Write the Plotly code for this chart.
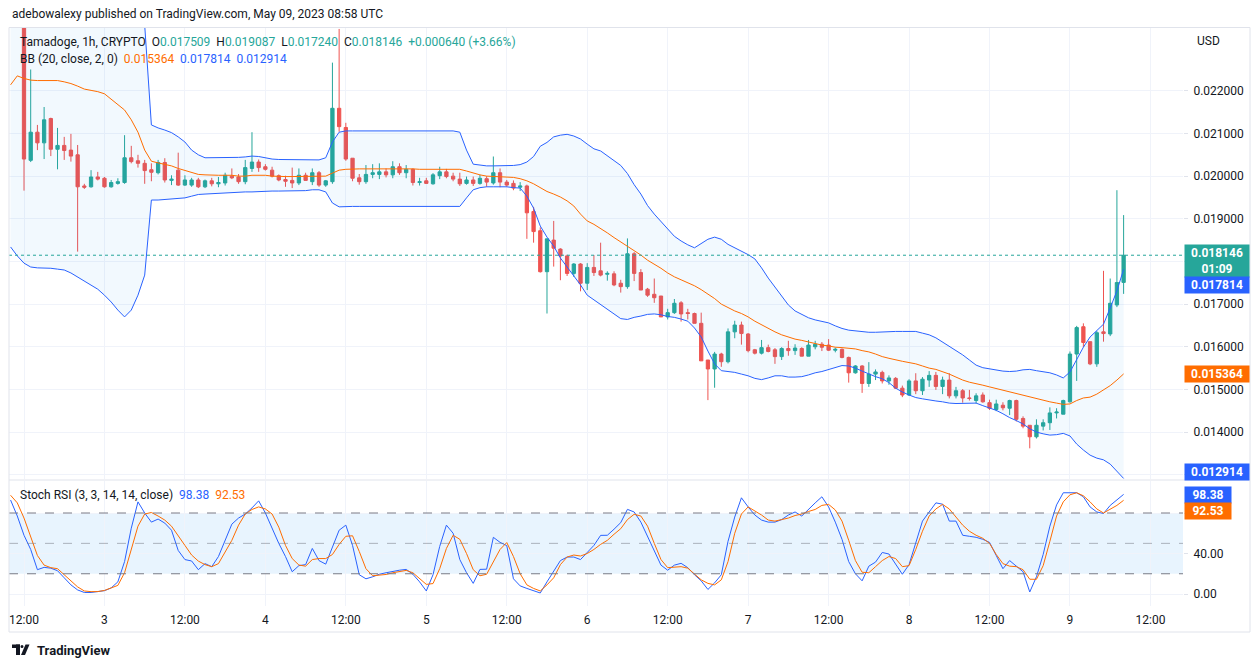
import plotly.graph_objects as go
import pandas as pd

# ---------------- data ----------------
open_ = [0.0246, 0.0255, 0.0262, 0.02037, 0.02103, 0.02078, 0.02135, 0.02063, 0.02072, 0.02061,
         0.0205, 0.01977, 0.01975, 0.01998, 0.01995, 0.01975, 0.01983, 0.01985, 0.02043, 0.02036,
         0.0203, 0.02015, 0.02008, 0.02032, 0.0199, 0.02014, 0.01979, 0.01979, 0.01991, 0.01975,
         0.01989, 0.01982, 0.01984, 0.02, 0.01998, 0.01987, 0.02018, 0.02033, 0.02022, 0.02014,
         0.02001, 0.01992, 0.0199, 0.01984, 0.02002, 0.01987, 0.02008, 0.01979, 0.01987, 0.02159,
         0.02114, 0.02042, 0.01996, 0.01987, 0.02004, 0.02004, 0.0201, 0.02003, 0.02022, 0.02008,
         0.02016, 0.01985, 0.01989, 0.01982, 0.02001, 0.0201, 0.02, 0.01993, 0.01983, 0.01991,
         0.01983, 0.01994, 0.01984, 0.02008, 0.01986, 0.01983, 0.01974, 0.01977, 0.01917, 0.01872,
         0.01776, 0.0185, 0.01829, 0.01813, 0.01772, 0.01794, 0.01749, 0.01786, 0.01778, 0.0177,
         0.01771, 0.01749, 0.01741, 0.01818, 0.01774, 0.01735, 0.01723, 0.01719, 0.0167, 0.0168,
         0.01703, 0.0168, 0.01678, 0.01655, 0.01569, 0.01548, 0.01583, 0.01565, 0.01635, 0.01651,
         0.0163, 0.01593, 0.01585, 0.01598, 0.01593, 0.01577, 0.01596, 0.01591, 0.01596, 0.01578,
         0.016, 0.01606, 0.01604, 0.01592, 0.01594, 0.01575, 0.01539, 0.01555, 0.01514, 0.01536,
         0.0154, 0.0152, 0.01526, 0.01503, 0.01487, 0.0152, 0.01497, 0.01522, 0.01533, 0.01507,
         0.01522, 0.01485, 0.01497, 0.0148, 0.01474, 0.01487, 0.01469, 0.01453, 0.01463, 0.01456,
         0.01474, 0.01432, 0.01416, 0.01389, 0.01414, 0.01422, 0.01445, 0.01442, 0.01471, 0.01583,
         0.01647, 0.01612, 0.0156, 0.01635, 0.0163, 0.01698, 0.017509]
high_ = [0.0258, 0.0268, 0.0265, 0.0225, 0.0212, 0.02162, 0.02137, 0.02113, 0.02092, 0.02099,
         0.02073, 0.01982, 0.02014, 0.0201, 0.01998, 0.01991, 0.01995, 0.02096, 0.02071, 0.0205,
         0.02038, 0.0203, 0.02038, 0.02042, 0.02002, 0.02055, 0.02002, 0.01996, 0.01996, 0.01992,
         0.01996, 0.01998, 0.02008, 0.02018, 0.02005, 0.02038, 0.02103, 0.02039, 0.02028, 0.02022,
         0.02004, 0.02001, 0.0202, 0.02018, 0.02008, 0.02018, 0.02012, 0.01991, 0.02266, 0.02345,
         0.02125, 0.02042, 0.02005, 0.02026, 0.02028, 0.0203, 0.02018, 0.02035, 0.0203, 0.02026,
         0.02018, 0.01996, 0.01996, 0.02007, 0.02022, 0.02017, 0.02008, 0.02008, 0.01999, 0.01999,
         0.02003, 0.02, 0.02046, 0.02018, 0.01991, 0.0199, 0.01986, 0.0198, 0.01928, 0.0188,
         0.01853, 0.01895, 0.01831, 0.01816, 0.01796, 0.01796, 0.01796, 0.01815, 0.01844, 0.01777,
         0.01777, 0.01757, 0.01854, 0.01822, 0.01782, 0.01738, 0.0176, 0.01719, 0.01689, 0.01712,
         0.01707, 0.01689, 0.0168, 0.0168, 0.01569, 0.01588, 0.01586, 0.01643, 0.01661, 0.01659,
         0.01632, 0.01595, 0.01616, 0.01605, 0.01597, 0.01599, 0.01614, 0.01606, 0.01599, 0.01616,
         0.01614, 0.01611, 0.01618, 0.01598, 0.01596, 0.01577, 0.01557, 0.01557, 0.01564, 0.01547,
         0.01544, 0.01533, 0.01529, 0.01509, 0.01524, 0.01538, 0.01529, 0.01543, 0.01541, 0.0153,
         0.01538, 0.01506, 0.01501, 0.01499, 0.01491, 0.01493, 0.01476, 0.01476, 0.0147, 0.01476,
         0.01476, 0.01437, 0.01416, 0.0143, 0.0143, 0.01458, 0.01456, 0.01476, 0.01589, 0.01649,
         0.01655, 0.01612, 0.01637, 0.01778, 0.0176, 0.01967, 0.019087]
low_ = [0.0242, 0.025, 0.01966, 0.02033, 0.02061, 0.0204, 0.02047, 0.02016, 0.02038, 0.02034,
        0.01823, 0.0197, 0.01973, 0.0199, 0.01973, 0.01973, 0.0198, 0.01982, 0.0203, 0.0202,
        0.01982, 0.01988, 0.02004, 0.01985, 0.01979, 0.01977, 0.01977, 0.01975, 0.01972, 0.01972,
        0.01976, 0.01974, 0.01978, 0.01993, 0.01982, 0.01981, 0.0201, 0.0201, 0.02013, 0.01997,
        0.01988, 0.01975, 0.01972, 0.01979, 0.0199, 0.01979, 0.01975, 0.01975, 0.01982, 0.02104,
        0.02036, 0.01988, 0.0198, 0.01982, 0.01995, 0.01993, 0.01997, 0.01995, 0.02003, 0.01995,
        0.01978, 0.01978, 0.01982, 0.0198, 0.01993, 0.01995, 0.01988, 0.01977, 0.0198, 0.01977,
        0.0198, 0.01975, 0.0198, 0.01974, 0.01975, 0.01967, 0.01965, 0.01853, 0.01844, 0.01774,
        0.01678, 0.01788, 0.01756, 0.01766, 0.01764, 0.0173, 0.01733, 0.01766, 0.01765, 0.01755,
        0.01742, 0.01727, 0.01736, 0.01754, 0.01733, 0.01717, 0.01703, 0.0167, 0.01664, 0.01677,
        0.01659, 0.01664, 0.01655, 0.01567, 0.01475, 0.01504, 0.01553, 0.01561, 0.0162, 0.01605,
        0.01587, 0.01582, 0.01582, 0.01587, 0.0156, 0.01569, 0.01579, 0.01581, 0.01578, 0.01578,
        0.01594, 0.0159, 0.0159, 0.01587, 0.01573, 0.01516, 0.01537, 0.01492, 0.01506, 0.01522,
        0.01514, 0.01511, 0.01501, 0.01482, 0.01485, 0.01489, 0.01487, 0.01506, 0.01499, 0.01489,
        0.01479, 0.01479, 0.01469, 0.01474, 0.01467, 0.01469, 0.01452, 0.01449, 0.01451, 0.0144,
        0.01425, 0.01409, 0.01362, 0.01385, 0.01404, 0.01405, 0.01432, 0.01442, 0.01469, 0.0152,
        0.01599, 0.01557, 0.01553, 0.01612, 0.01625, 0.01693, 0.01724]
close_ = [0.0255, 0.0262, 0.0204, 0.02103, 0.02078, 0.02132, 0.02063, 0.02072, 0.0206, 0.02047,
          0.01975, 0.01974, 0.01998, 0.01993, 0.01975, 0.01985, 0.01987, 0.02043, 0.02034, 0.0203,
          0.02013, 0.02009, 0.02032, 0.01991, 0.01993, 0.01979, 0.01991, 0.01991, 0.01975, 0.01989,
          0.01982, 0.01985, 0.02002, 0.01996, 0.01987, 0.0202, 0.02033, 0.0202, 0.02016, 0.02,
          0.01991, 0.01988, 0.01984, 0.02002, 0.0199, 0.02008, 0.01979, 0.01989, 0.02159, 0.02116,
          0.0204, 0.01995, 0.01987, 0.02004, 0.02008, 0.0201, 0.02003, 0.02022, 0.02008, 0.02016,
          0.01985, 0.01987, 0.01983, 0.02003, 0.0201, 0.01999, 0.01993, 0.01982, 0.01991, 0.01983,
          0.01995, 0.01986, 0.02008, 0.01986, 0.01979, 0.01972, 0.01977, 0.01914, 0.0187, 0.01776,
          0.01853, 0.01831, 0.01813, 0.01772, 0.01794, 0.01749, 0.01786, 0.01774, 0.01768, 0.01772,
          0.01745, 0.01741, 0.01818, 0.01772, 0.01733, 0.01721, 0.01715, 0.0167, 0.0168, 0.01702,
          0.01677, 0.01678, 0.01655, 0.01567, 0.01548, 0.01583, 0.01565, 0.01635, 0.01651, 0.01631,
          0.01591, 0.01585, 0.01598, 0.01589, 0.01577, 0.01596, 0.01591, 0.01597, 0.01578, 0.01604,
          0.01606, 0.01599, 0.01592, 0.01594, 0.01575, 0.01539, 0.01555, 0.01514, 0.01536, 0.01541,
          0.0152, 0.01527, 0.01503, 0.01487, 0.0152, 0.01497, 0.01524, 0.01533, 0.01507, 0.01522,
          0.01485, 0.01497, 0.0148, 0.01479, 0.01485, 0.01471, 0.01456, 0.01466, 0.01457, 0.01474,
          0.0143, 0.01414, 0.01389, 0.01416, 0.01422, 0.01445, 0.01447, 0.01474, 0.01583, 0.01645,
          0.0161, 0.0156, 0.01633, 0.01631, 0.01702, 0.017506, 0.018146]

bb_mid = [0.02214, 0.02235, 0.02229, 0.02225, 0.02224, 0.02224, 0.02225, 0.02224, 0.02221, 0.02217,
          0.02211, 0.02204, 0.02201, 0.02198, 0.02193, 0.02181, 0.02169, 0.02155, 0.02132, 0.02103,
          0.02061, 0.02035, 0.02031, 0.02028, 0.02024, 0.02018, 0.02013, 0.02009, 0.02004, 0.02003,
          0.02002, 0.02002, 0.02002, 0.02002, 0.0200, 0.0200, 0.02002, 0.02002, 0.02002, 0.0200,
          0.01999, 0.01999, 0.01999, 0.01999, 0.01999, 0.01999, 0.01999, 0.0200, 0.02007, 0.02014,
          0.02016, 0.02017, 0.02017, 0.02017, 0.02017, 0.02017, 0.02018, 0.02018, 0.02017, 0.02017,
          0.02017, 0.02016, 0.02016, 0.02016, 0.02017, 0.02017, 0.02017, 0.02016, 0.02012, 0.02007,
          0.02003, 0.0200, 0.01999, 0.01998, 0.01997, 0.01997, 0.01994, 0.01989, 0.01982, 0.01972,
          0.01964, 0.01958, 0.01951, 0.01942, 0.0193, 0.01911, 0.01895, 0.01887, 0.01878, 0.01867,
          0.01856, 0.01846, 0.01835, 0.01825, 0.01815, 0.01803, 0.01794, 0.01784, 0.01773, 0.01764,
          0.01757, 0.0175, 0.01743, 0.01734, 0.01724, 0.01713, 0.017, 0.01691, 0.01684, 0.01678,
          0.0167, 0.0166, 0.01651, 0.01644, 0.01635, 0.01628, 0.01623, 0.01618, 0.01615, 0.01611,
          0.01607, 0.01604, 0.01602, 0.01599, 0.01598, 0.01596, 0.01595, 0.01591, 0.01588, 0.01583,
          0.01577, 0.01573, 0.01569, 0.01566, 0.01563, 0.0156, 0.01555, 0.0155, 0.01547, 0.01542,
          0.01536, 0.01529, 0.01522, 0.01517, 0.01514, 0.0151, 0.01506, 0.01502, 0.01498, 0.01494,
          0.01491, 0.01487, 0.01482, 0.01479, 0.01474, 0.01471, 0.01468, 0.01465, 0.01466, 0.01474,
          0.0148, 0.01482, 0.01489, 0.01499, 0.01509, 0.01522, 0.015364]
bb_up = [0.02593, 0.02657, 0.02661, 0.02664, 0.02664, 0.02664, 0.02667, 0.02666, 0.02661, 0.02661,
         0.02659, 0.02654, 0.02657, 0.02661, 0.02664, 0.02657, 0.02652, 0.0264, 0.02577, 0.02486,
         0.02354, 0.0212, 0.02113, 0.02108, 0.02102, 0.02092, 0.0208, 0.02061, 0.0205, 0.02043,
         0.02043, 0.02044, 0.02044, 0.02044, 0.02044, 0.02045, 0.02047, 0.02046, 0.02043, 0.0204,
         0.02039, 0.02039, 0.02038, 0.02038, 0.02038, 0.02038, 0.02038, 0.02043, 0.0208, 0.02103,
         0.02106, 0.02106, 0.02106, 0.02106, 0.02106, 0.02106, 0.02106, 0.02106, 0.02106, 0.02106,
         0.02106, 0.02106, 0.02106, 0.02106, 0.02106, 0.02106, 0.02106, 0.02103, 0.02061, 0.02028,
         0.02026, 0.02024, 0.02024, 0.02024, 0.02024, 0.02025, 0.02027, 0.02033, 0.02046, 0.0207,
         0.02079, 0.02092, 0.02096, 0.02098, 0.02094, 0.02087, 0.02075, 0.02064, 0.02059, 0.02047,
         0.02036, 0.02025, 0.02006, 0.0198, 0.01958, 0.01931, 0.01911, 0.01893, 0.01875, 0.01859,
         0.01848, 0.01839, 0.01832, 0.01842, 0.01852, 0.01857, 0.01852, 0.0184, 0.01832, 0.01825,
         0.01816, 0.01806, 0.01785, 0.01761, 0.0174, 0.01717, 0.01698, 0.01684, 0.01675, 0.01668,
         0.01663, 0.0166, 0.01656, 0.01649, 0.01643, 0.01639, 0.01637, 0.01635, 0.01634, 0.01634,
         0.01635, 0.01636, 0.01636, 0.01636, 0.01636, 0.01636, 0.01632, 0.01628, 0.01621, 0.01611,
         0.01602, 0.01591, 0.01581, 0.01569, 0.01557, 0.01551, 0.01548, 0.01546, 0.01543, 0.01542,
         0.01543, 0.01546, 0.01547, 0.01544, 0.01541, 0.01539, 0.01534, 0.01527, 0.01541, 0.01571,
         0.01599, 0.01623, 0.01639, 0.01653, 0.01691, 0.01731, 0.017814]
bb_lo = [0.01834, 0.01813, 0.01796, 0.01787, 0.01785, 0.01785, 0.01784, 0.01782, 0.0178, 0.01773,
         0.01764, 0.01754, 0.01745, 0.01735, 0.01721, 0.01705, 0.01686, 0.0167, 0.01686, 0.01721,
         0.01768, 0.01944, 0.01944, 0.01945, 0.01946, 0.01948, 0.01949, 0.01953, 0.01957, 0.01958,
         0.01959, 0.0196, 0.0196, 0.01962, 0.01962, 0.01963, 0.01963, 0.01964, 0.01964, 0.01965,
         0.01965, 0.01965, 0.01966, 0.01966, 0.01966, 0.01968, 0.01968, 0.01963, 0.01937, 0.01928,
         0.01929, 0.01929, 0.01929, 0.01929, 0.01929, 0.01929, 0.01929, 0.01929, 0.01929, 0.01929,
         0.01929, 0.01929, 0.01929, 0.01929, 0.01929, 0.01929, 0.01929, 0.01929, 0.01949, 0.01968,
         0.01973, 0.01975, 0.01975, 0.01975, 0.01975, 0.01973, 0.01972, 0.01953, 0.01925, 0.01883,
         0.01857, 0.01836, 0.01808, 0.01787, 0.01766, 0.01745, 0.01721, 0.0171, 0.01698, 0.01686,
         0.01677, 0.01666, 0.01664, 0.01669, 0.01672, 0.01676, 0.01677, 0.01675, 0.01671, 0.01669,
         0.01665, 0.0166, 0.01644, 0.01623, 0.0159, 0.0156, 0.01544, 0.01542, 0.0154, 0.01536,
         0.01532, 0.01526, 0.01523, 0.01527, 0.01532, 0.01532, 0.01529, 0.01529, 0.0153, 0.01534,
         0.01539, 0.01542, 0.01547, 0.01551, 0.01556, 0.01555, 0.0155, 0.01543, 0.01536, 0.0153,
         0.01525, 0.01516, 0.01503, 0.01494, 0.01487, 0.01481, 0.01478, 0.01475, 0.01473, 0.01471,
         0.01468, 0.01467, 0.01467, 0.01468, 0.01468, 0.01462, 0.01457, 0.01451, 0.01443, 0.01434,
         0.01427, 0.01419, 0.01408, 0.014, 0.01396, 0.01393, 0.01394, 0.01397, 0.01391, 0.01372,
         0.01358, 0.01346, 0.01339, 0.01335, 0.01325, 0.01309, 0.012914]

stoch_k = [92.8, 77, 58, 44, 24, 26.3, 25.5, 23, 16, 9,
           4, 1.5, 1.5, 2.5, 3.3, 6, 12, 32, 65, 91,
           80, 71, 74, 70, 63, 43, 34, 32.6, 24, 30,
           27, 37, 53, 69, 75, 79, 85, 92, 80, 65,
           50, 37, 22, 28, 29, 45, 33, 29.5, 47, 63,
           68, 48, 19, 15, 17, 19.5, 21, 22.5, 23.5, 24.3,
           19.5, 12, 3, 19, 47, 68, 60, 34, 21, 10.5,
           24.3, 24.5, 56, 51, 47.8, 15, 8, 5.5, 3.5, 1,
           12, 23, 33, 36.5, 36.5, 34, 41, 48, 57.9, 58,
           64, 70.5, 83.6, 81, 71, 57, 42, 28.5, 23.5, 28.5,
           30.3, 26, 19, 13, 4.5, 11, 19, 52, 76, 95,
           86, 78, 73, 71, 71, 73.5, 78, 81, 77, 84,
           90, 96, 86, 71, 54, 32, 20, 13, 27.5, 31.5,
           41, 39.5, 30, 19.5, 29, 50, 72, 81, 90, 88.7,
           72, 72, 58, 57, 56, 54, 51, 38, 25, 33,
           27, 22, 2, 17, 39, 67, 88, 100, 100, 100,
           96, 86, 81, 79.5, 87.5, 93, 98.38]
stoch_d = [97.5, 90, 75, 57, 38, 28.5, 26, 25, 19, 13,
           7, 3, 2.3, 2.4, 3.5, 6, 8.5, 21, 45, 67,
           79, 80.5, 77, 73, 67, 58, 48, 38.5, 32.5, 29,
           27, 30, 41, 53, 68, 79, 83.5, 86, 84, 79,
           66, 48, 35, 28.6, 27.5, 34, 35, 35, 39, 49,
           57, 57.5, 42, 25, 18, 18.5, 19.3, 21, 22.5, 23.3,
           21, 15, 9.5, 10.3, 25, 45, 58, 54, 40, 24,
           18, 19.5, 32, 44, 50.8, 37, 20, 9, 5.5, 3,
           9, 16, 29, 36.5, 38.5, 37.5, 40, 44, 49, 53,
           59, 64.5, 73.5, 78.7, 77, 67, 50, 34, 26, 26.5,
           27, 25.5, 20, 14, 10.5, 9, 14, 32, 60, 79,
           86, 82, 78, 73, 72, 73.5, 75, 77.5, 79, 81.5,
           83.5, 87.5, 88.5, 83, 72, 53, 33, 21.5, 21, 27,
           33, 37, 35, 27, 28, 44, 62, 77, 84, 88.5,
           84, 76, 68, 62, 58, 55, 50, 39, 30, 27.5,
           27, 24, 14.6, 14.5, 28, 52, 77, 91, 98, 100,
           97, 91, 84, 80, 83.5, 87.5, 92.53]

x_tick_vals = ["2023-05-02 12:00", "2023-05-03 00:00", "2023-05-03 12:00", "2023-05-04 00:00",
               "2023-05-04 12:00", "2023-05-05 00:00", "2023-05-05 12:00", "2023-05-06 00:00",
               "2023-05-06 12:00", "2023-05-07 00:00", "2023-05-07 12:00", "2023-05-08 00:00",
               "2023-05-08 12:00", "2023-05-09 00:00", "2023-05-09 12:00"]
x_tick_text = ["12:00", "3", "12:00", "4", "12:00", "5", "12:00", "6",
               "12:00", "7", "12:00", "8", "12:00", "9", "12:00"]
price_tick_vals = [0.013, 0.014, 0.015, 0.016, 0.017, 0.018, 0.019, 0.020, 0.021, 0.022]
price_tick_text = ["", "0.014000", "0.015000", "0.016000", "0.017000", "", "0.019000",
                   "0.020000", "0.021000", "0.022000"]
stoch_tick_vals = [0, 40, 80]
stoch_tick_text = ["0.00", "40.00", ""]

last_price = 0.018146

# ---------------- geometry (page pixels; the page body adds an 8px offset) ----------------
OFF = 8
W, H = 1260 - OFF, 668 - OFF
L, R, T, B = 9, 1183, 28, 606   # plot area in page pixels


def px(x):
    return (x - L) / (R - L)


def py(y):
    return (B - y) / (B - T)


UP, DN = "#26a69a", "#ef5350"
BLUE, ORANGE = "#2962ff", "#ff6d00"
TXT = "#131722"
GRID = "#f0f3fa"
FONT = "Roboto"

times = pd.date_range("2023-05-02 10:00", periods=len(close_), freq="h")

fig = go.Figure()

# Bollinger band
fig.add_trace(go.Scatter(x=times, y=bb_up, mode="lines", line=dict(color=BLUE, width=1),
                         xaxis="x", yaxis="y", hoverinfo="skip"))
fig.add_trace(go.Scatter(x=times, y=bb_lo, mode="lines", line=dict(color=BLUE, width=1),
                         fill="tonexty", fillcolor="rgba(33,150,243,0.06)",
                         xaxis="x", yaxis="y", hoverinfo="skip"))
fig.add_trace(go.Scatter(x=times, y=bb_mid, mode="lines", line=dict(color=ORANGE, width=1),
                         xaxis="x", yaxis="y", hoverinfo="skip"))

# candles
fig.add_trace(go.Candlestick(
    x=times, open=open_, high=high_, low=low_, close=close_,
    increasing=dict(line=dict(color=UP, width=1), fillcolor=UP),
    decreasing=dict(line=dict(color=DN, width=1), fillcolor=DN),
    whiskerwidth=0, xaxis="x", yaxis="y", showlegend=False))

# Stoch RSI
fig.add_trace(go.Scatter(x=times, y=stoch_k, mode="lines", line=dict(color=BLUE, width=1),
                         xaxis="x2", yaxis="y2", hoverinfo="skip"))
fig.add_trace(go.Scatter(x=times, y=stoch_d, mode="lines", line=dict(color=ORANGE, width=1),
                         xaxis="x2", yaxis="y2", hoverinfo="skip"))

x_range = ["2023-05-02 09:45:47", "2023-05-09 16:51:22"]

shapes = [
    dict(type="rect", xref="paper", yref="y2", x0=0, x1=1, y0=20, y1=80,
         fillcolor="rgba(33,150,243,0.10)", line=dict(width=0), layer="below"),
    dict(type="line", xref="paper", yref="y2", x0=0, x1=1, y0=80, y1=80,
         line=dict(color="#787b86", width=1, dash="dash")),
    dict(type="line", xref="paper", yref="y2", x0=0, x1=1, y0=50, y1=50,
         line=dict(color="rgba(120,123,134,0.55)", width=1, dash="dash")),
    dict(type="line", xref="paper", yref="y2", x0=0, x1=1, y0=20, y1=20,
         line=dict(color="#787b86", width=1, dash="dash")),
    dict(type="line", xref="paper", yref="y", x0=0, x1=1, y0=last_price, y1=last_price,
         line=dict(color=UP, width=1, dash="dot")),
    dict(type="line", xref="paper", yref="paper", x0=px(9), x1=px(1250), y0=py(480), y1=py(480),
         line=dict(color="#e0e3eb", width=1)),
    dict(type="rect", xref="paper", yref="paper", x0=px(9), x1=px(1250), y0=py(632), y1=py(27.5),
         line=dict(color="#e0e3eb", width=1), fillcolor="rgba(0,0,0,0)"),
    # TradingView logo (simple glyph)
    dict(type="rect", xref="paper", yref="paper", x0=px(12), x1=px(20), y0=py(648), y1=py(644.5),
         line=dict(width=0), fillcolor=TXT),
    dict(type="rect", xref="paper", yref="paper", x0=px(16), x1=px(20), y0=py(655), y1=py(644.5),
         line=dict(width=0), fillcolor=TXT),
    dict(type="circle", xref="paper", yref="paper", x0=px(20.5), x1=px(23.5), y0=py(648), y1=py(645),
         line=dict(width=0), fillcolor=TXT),
    dict(type="path", xref="paper", yref="paper",
         path=f"M {px(21)} {py(655)} L {px(25.5)} {py(644.5)} L {px(29.5)} {py(644.5)} L {px(25)} {py(655)} Z",
         line=dict(width=0), fillcolor=TXT),
]


def span(c, t):
    return f'<span style="color:{c}">{t}</span>'


sp = "&nbsp;&nbsp;"
annotations = [
    dict(x=px(10), y=py(14), text="adebowalexy published on TradingView.com, May 09, 2023 08:58 UTC",
         font=dict(size=12, color=TXT)),
    dict(x=px(18), y=py(42),
         text="Tamadoge, 1h, CRYPTO" + sp + "O" + span(UP, "0.017509") + sp + "H" + span(UP, "0.019087")
              + sp + "L" + span(UP, "0.017240") + sp + "C" + span(UP, "0.018146") + sp
              + span(UP, "+0.000640 (+3.66%)"),
         font=dict(size=12, color=TXT)),
    dict(x=px(18), y=py(59),
         text="BB (20, close, 2, 0)" + sp + span(ORANGE, "0.015364") + sp + span(BLUE, "0.017814")
              + sp + span(BLUE, "0.012914"),
         font=dict(size=12, color=TXT)),
    dict(x=px(18), y=py(495),
         text="Stoch RSI (3, 3, 14, 14, close)" + sp + span(BLUE, "98.38") + sp + span(ORANGE, "92.53"),
         font=dict(size=12, color=TXT)),
    dict(x=px(1195), y=py(41), text="USD", font=dict(size=12, color=TXT)),
    dict(x=px(35), y=py(650), text="<b>TradingView</b>", font=dict(size=13, color=TXT)),
]
for a in annotations:
    a.update(xref="paper", yref="paper", xanchor="left", yanchor="middle", showarrow=False)

boxes = [
    ("0.018146<br>01:09", 261, UP, 62),
    ("0.017814", 284.5, BLUE, 62),
    ("0.015364", 373.5, ORANGE, 62),
    ("0.012914", 472, BLUE, 62),
    ("98.38", 494.5, BLUE, 44),
    ("92.53", 511, ORANGE, 44),
]
for txt, yc, col, wd in boxes:
    annotations.append(dict(
        xref="paper", yref="paper", x=px(1184), y=py(yc), xanchor="left", yanchor="middle",
        text=f"<b>{txt}</b>", showarrow=False, bgcolor=col, font=dict(size=12, color="white"),
        align="center", borderpad=1, width=wd))

fig.update_layout(
    width=W, height=H,
    margin=dict(l=L - OFF, r=W - (R - OFF), t=T - OFF, b=H - (B - OFF)),
    paper_bgcolor="white", plot_bgcolor="white",
    showlegend=False,
    font=dict(family=FONT, color=TXT, size=12),
    xaxis=dict(type="date", range=x_range, domain=[0, 1], anchor="y",
               tickvals=x_tick_vals, ticktext=x_tick_text, showticklabels=False,
               showgrid=True, gridcolor=GRID, zeroline=False, showline=False,
               rangeslider=dict(visible=False)),
    yaxis=dict(domain=[py(479), 1], side="right", range=[0.012901, 0.023472],
               tickvals=price_tick_vals, ticktext=price_tick_text,
               showgrid=True, gridcolor=GRID, zeroline=False, showline=False,
               ticks="outside", ticklen=4, tickcolor="#e0e3eb", ticklabelstandoff=3,
               tickfont=dict(size=12, color=TXT)),
    xaxis2=dict(type="date", range=x_range, domain=[0, 1], anchor="y2", matches="x",
                tickvals=x_tick_vals, ticktext=x_tick_text, showticklabels=True,
                showgrid=True, gridcolor=GRID, zeroline=False, showline=False,
                ticks="", ticklabelstandoff=5, tickfont=dict(size=12, color=TXT),
                rangeslider=dict(visible=False)),
    yaxis2=dict(domain=[0, py(481)], side="right", range=[-11.85, 111.6],
                tickvals=stoch_tick_vals, ticktext=stoch_tick_text,
                showgrid=True, gridcolor=GRID, zeroline=False, showline=False,
                ticks="outside", ticklen=4, tickcolor="#e0e3eb", ticklabelstandoff=3,
                tickfont=dict(size=12, color=TXT)),
    shapes=shapes,
    annotations=annotations,
)

fig.write_html("out.html")
